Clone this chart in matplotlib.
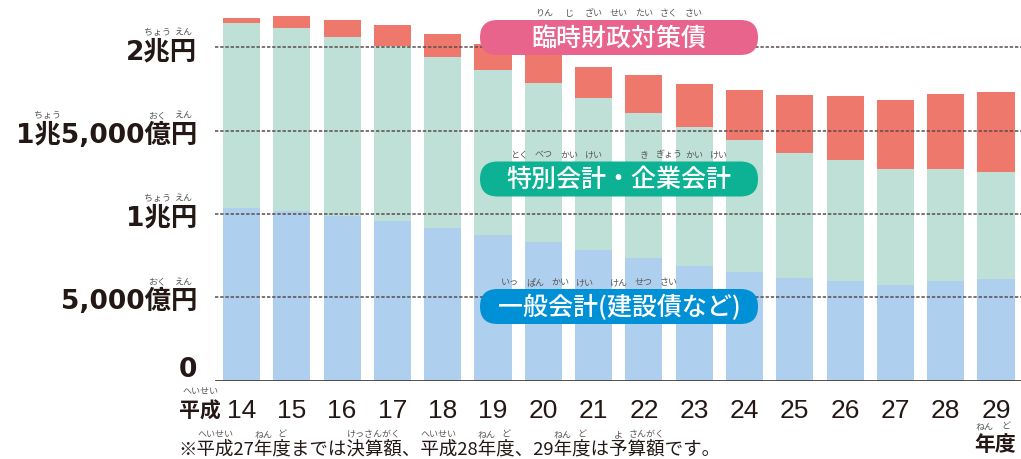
import matplotlib
matplotlib.use("Agg")
import matplotlib.pyplot as plt
from matplotlib.patches import FancyBboxPatch
from matplotlib.font_manager import FontProperties
import numpy as np

plt.rcParams['font.family'] = ['Noto Sans CJK JP', 'DejaVu Sans']

# 年度(平成)
years = ['14', '15', '16', '17', '18', '19', '20', '21',
         '22', '23', '24', '25', '26', '27', '28', '29']

# 残高 (億円)
general = [10350, 10170, 9870, 9570, 9150, 8730, 8310, 7830,
           7350, 6870, 6510, 6150, 5970, 5730, 5970, 6090]   # 一般会計(建設債など)
special = [11100, 10980, 10740, 10500, 10260, 9900, 9550, 9120,
           8700, 8340, 7920, 7500, 7260, 6960, 6720, 6420]    # 特別会計・企業会計
rinji = [300, 720, 1020, 1260, 1380, 1560, 1730, 1860,
         2280, 2580, 3000, 3480, 3840, 4140, 4500, 4800]      # 臨時財政対策債

yticks = [0, 5000, 10000, 15000, 20000]
ytick_labels = ['0', '5,000億円', '1兆円', '1兆5,000億円', '2兆円']
ytick_ruby = [[], [(5, 6, 'おく'), (6, 7, 'えん')], [(1, 2, 'ちょう'), (2, 3, 'えん')],
              [(1, 2, 'ちょう'), (7, 8, 'おく'), (8, 9, 'えん')], [(1, 2, 'ちょう'), (2, 3, 'えん')]]

note = '※平成27年度までは決算額、平成28年度、29年度は予算額です。'
note_ruby = [(1, 3, 'へいせい'), (5, 6, 'ねん'), (6, 7, 'ど'), (10, 13, 'けっさんがく'),
             (14, 16, 'へいせい'), (18, 19, 'ねん'), (19, 20, 'ど'), (23, 24, 'ねん'),
             (24, 25, 'ど'), (26, 27, 'よ'), (27, 29, 'さんがく')]

C_BLUE, C_GREEN, C_RED = '#AECFED', '#BEE0D6', '#EE786B'
INK = '#231815'
RUBY_C = '#595757'

W, H = 1021, 460
fig = plt.figure(figsize=(W / 100, H / 100), dpi=100)
ax = fig.add_axes([215 / W, 78.5 / H, 806 / W, 371.5 / H])
x = np.arange(len(years))
bw = 0.736
ax.bar(x, general, width=bw, color=C_BLUE, zorder=2)
ax.bar(x, special, width=bw, bottom=general, color=C_GREEN, zorder=2)
ax.bar(x, rinji, width=bw, bottom=np.add(general, special), color=C_RED, zorder=2)
ax.set_xlim(-0.527, 15.497)
ax.set_ylim(0, 22300)
for v in yticks[1:]:
    ax.axhline(v, color='#5b4c4c', lw=1.1, ls=(0, (2.2, 1.2)), zorder=3)
ax.axhline(0, color='#4d3f3f', lw=1.3, zorder=3)
for s in ax.spines.values():
    s.set_visible(False)
ax.set_xticks([])
ax.set_yticks([])

# 文字用のピクセル座標レイヤー
ov = fig.add_axes([0, 0, 1, 1], zorder=5)
ov.set_xlim(0, W)
ov.set_ylim(H, 0)
ov.axis('off')
ov.patch.set_visible(False)

renderer = fig.canvas.get_renderer()


def text_w(s, fp):
    if not s:
        return 0
    w, h, d = renderer.get_text_width_height_descent(s, fp, ismath=False)
    return w


def ruby_text(xx, yy, s, size, weight='normal', color=INK, ha='left', rubies=(),
              dy=20, family=None, rsize=6.5):
    fp = FontProperties(family=family or ['Noto Sans CJK JP', 'DejaVu Sans'],
                        size=size, weight=weight)
    total = text_w(s, fp)
    x0 = {'left': xx, 'center': xx - total / 2, 'right': xx - total}[ha]
    ov.text(x0, yy, s, fontproperties=fp, color=color, ha='left', va='center')
    for i0, i1, r in rubies:
        a = text_w(s[:i0], fp)
        b = text_w(s[:i1], fp)
        ov.text(x0 + (a + b) / 2, yy - dy, r, fontsize=rsize, color=RUBY_C,
                ha='center', va='center')


def to_px(xv, yv):
    px, py = ax.transData.transform((xv, yv))
    return px, H - py


# y軸ラベル
for v, lab, rb in zip(yticks, ytick_labels, ytick_ruby):
    _, py = to_px(0, v)
    off = -11 if v == 0 else 4
    ruby_text(197, py + off, lab, 19, 'bold', ha='right', rubies=rb,
              family=['DejaVu Sans', 'Noto Sans CJK JP'])

# x軸ラベル
for i, yr in enumerate(years):
    px, _ = to_px(i, 0)
    ov.text(px, 411, yr, fontsize=19, color=INK, ha='center', va='center',
            family=['Liberation Sans'])
ruby_text(200, 411, '平成', 15, 'bold', ha='center', rubies=[(0, 2, 'へいせい')], dy=19)
ruby_text(995, 445, '年度', 15, 'bold', ha='center',
          rubies=[(0, 1, 'ねん'), (1, 2, 'ど')], dy=18)

# 注記
ruby_text(178, 450, note, 13.3, ha='left', rubies=note_ruby, dy=15)

# 凡例ラベル(角丸)
pills = [
    ('臨時財政対策債', '#E9648C', 38.5,
     [(0, 1, 'りん'), (1, 2, 'じ'), (2, 3, 'ざい'), (3, 4, 'せい'), (4, 5, 'たい'),
      (5, 6, 'さく'), (6, 7, 'さい')]),
    ('特別会計・企業会計', '#0DB295', 180,
     [(0, 1, 'とく'), (1, 2, 'べつ'), (2, 3, 'かい'), (3, 4, 'けい'), (5, 6, 'き'),
      (6, 7, 'ぎょう'), (7, 8, 'かい'), (8, 9, 'けい')]),
    ('一般会計(建設債など)', '#0090D5', 307.5,
     [(0, 1, 'いっ'), (1, 2, 'ぱん'), (2, 3, 'かい'), (3, 4, 'けい'), (5, 6, 'けん'),
      (6, 7, 'せつ'), (7, 8, 'さい')]),
]
for label, col, cy, rb in pills:
    h = 35
    ov.add_patch(FancyBboxPatch((480, cy - h / 2), 278, h,
                                boxstyle=f'round,pad=0,rounding_size={h / 2}',
                                fc=col, ec='none'))
    ruby_text(619, cy, label, 18, 'medium', color='white', ha='center', rubies=rb, dy=25)

fig.savefig('out.png', dpi=100)
